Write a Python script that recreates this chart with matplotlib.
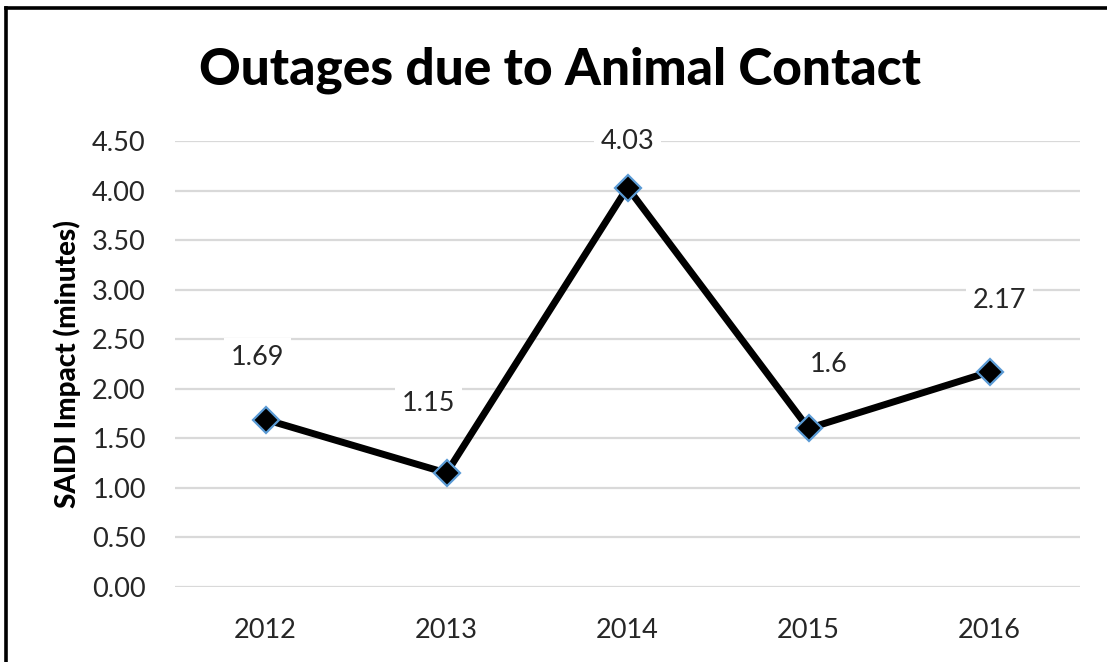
import matplotlib.pyplot as plt
from matplotlib.lines import Line2D

years = ["2012", "2013", "2014", "2015", "2016"]
saidi = [1.69, 1.15, 4.03, 1.6, 2.17]
labels = ["1.69", "1.15", "4.03", "1.6", "2.17"]
yticks = [0.0, 0.5, 1.0, 1.5, 2.0, 2.5, 3.0, 3.5, 4.0, 4.5]

# label offsets in pixels (dx, dy) from each point
offsets = [(-8, 62), (-18, 70), (0, 46), (20, 64), (10, 71)]

plt.rcParams['font.family'] = ['Lato', 'DejaVu Sans']

fig = plt.figure(figsize=(11.07, 6.62), dpi=100)
ax = fig.add_axes([175 / 1107, 1 - 587 / 662, 905 / 1107, 446 / 662])

x = list(range(len(years)))
ax.plot(x, saidi, color='black', lw=5, marker='D', markersize=13,
        markerfacecolor='black', markeredgecolor='#5B9BD5', markeredgewidth=1.6,
        zorder=3, solid_joinstyle='miter')

for xi, yi, lab, (dx, dy) in zip(x, saidi, labels, offsets):
    ax.annotate(lab, (xi, yi), xytext=(dx * 0.72, dy * 0.72), textcoords='offset points',
                ha='center', va='center', fontsize=19.5, color='#262626',
                bbox=dict(boxstyle='square,pad=0.25', fc='white', ec='none'), zorder=4)

ax.set_xlim(-0.5, len(years) - 0.5)
ax.set_ylim(0, 4.5)
ax.set_xticks(x)
ax.set_xticklabels(years)
ax.set_yticks(yticks)
ax.set_yticklabels([f"{v:.2f}" for v in yticks])
ax.tick_params(length=0, labelsize=19.5, labelcolor='#262626')
ax.tick_params(axis='y', pad=21)
ax.tick_params(axis='x', pad=22)
ax.yaxis.grid(True, color='#D9D9D9', lw=1.6)
ax.set_axisbelow(True)
for s in ax.spines.values():
    s.set_visible(False)
ax.set_ylabel("SAIDI Impact (minutes)", fontsize=20, fontweight='black', labelpad=8)

fig.text(560 / 1107, 1 - 70 / 662, "Outages due to Animal Contact", ha='center', va='center',
         fontsize=37, fontweight='black', color='black')

# frame edges along top and left
fig.add_artist(Line2D([6 / 1107, 1], [1 - 8 / 662, 1 - 8 / 662], color='black', lw=2.6,
                      transform=fig.transFigure))
fig.add_artist(Line2D([6 / 1107, 6 / 1107], [0, 1 - 8 / 662], color='black', lw=2.6,
                      transform=fig.transFigure))

fig.savefig("out.png", dpi=100)
